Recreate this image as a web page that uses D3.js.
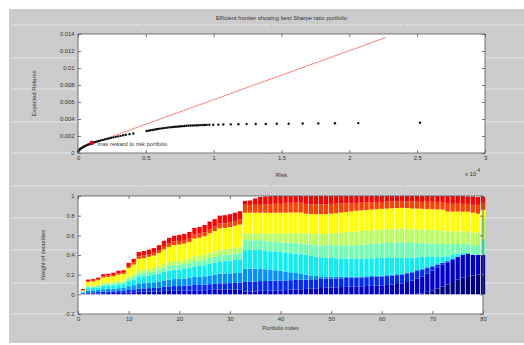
<!DOCTYPE html>
<html>
<head>
<meta charset="utf-8">
<script src="https://cdn.jsdelivr.net/npm/d3@7"></script>
<style>
  body { margin: 0; background: #fff; }
  svg text { font-family: "Liberation Sans", Arial, Helvetica, sans-serif; font-size: 5.8px; fill: #333; }
  #fig { opacity: 0.999; }
</style>
</head>
<body>
<svg id="fig" width="524" height="345"></svg>
<script>
// ---- data ----

// efficient frontier, risk in units of 1e-4
var frontierRisk = [
  .002, .006, .011, .017, .023, .030, .037, .045, .053, .062,
  .072, .082, .093, .104, .116, .128, .141, .154, .168, .182,
  .197, .212, .228, .244, .261, .278, .296, .314, .333, .352,
  .380, .408, .506, .520, .534, .548, .562, .576, .590, .604,
  .618, .632, .646, .660, .674, .688, .702, .716, .730, .744,
  .758, .772, .786, .800, .815, .830, .845, .860, .875, .890,
  .905, .920, .935, .949, .968, .997, 1.034, 1.071, 1.126, 1.182,
  1.243, 1.310, 1.384, 1.465, 1.553, 1.656, 1.771, 1.894, 2.066, 2.521
];
var frontierReturn = [
  .00016, .00028, .00038, .00047, .00055, .00062, .00069, .00076, .00083, .0009,
  .00097, .00103, .0011, .00116, .00123, .00129, .00135, .00141, .00148, .00154,
  .0016, .00166, .00172, .00178, .00184, .0019, .00196, .00202, .00208, .00214,
  .00222, .0023, .00259, .00263, .00267, .00271, .00275, .00279, .00283, .00287,
  .0029, .00293, .00296, .00299, .00302, .00304, .00306, .00308, .0031, .00312,
  .00314, .00316, .00318, .0032, .00322, .00323, .00324, .00325, .00326, .00327,
  .00328, .00329, .0033, .00331, .00332, .00333, .00334, .00335, .00337, .00338,
  .0034, .00341, .00342, .00344, .00345, .00347, .00348, .0035, .00352, .00356
];

// capital market line and best sharpe portfolio
var cmlRisk = [0, 2.27];
var cmlReturn = [0.0005, 0.0136];
var maxSharpeRisk = 0.1;
var maxSharpeReturn = 0.00118;

var riskTicks = [0, 0.5, 1, 1.5, 2, 2.5, 3];
var returnTicks = [0, 0.002, 0.004, 0.006, 0.008, 0.01, 0.012, 0.014];

// weights of the 10 securities for the 80 portfolios
var w1 = [
  0, 0, 0, 0, 0, 0, 0, 0, 0, 0,
  0, 0, 0, 0, 0, 0, 0, 0, 0, 0,
  0, 0, 0, 0, 0, 0, 0, 0, 0, 0,
  0, 0, 0, 0, 0, 0, 0, 0, 0, 0,
  0, 0, 0, 0, 0, 0, 0, 0, 0, 0,
  0, 0, 0, 0, 0, 0, 0, 0, 0, 0,
  0, 0, 0, 0, 0, 0, .005, .01, .025, .04,
  .06, .08, .10, .125, .15, .17, .185, .19, .20, .20
];
var w2 = [
  0, .009, .009, .010, .012, .013, .013, .014, .015, .019,
  .022, .026, .026, .027, .028, .030, .033, .035, .036, .036,
  .037, .038, .041, .041, .042, .044, .046, .048, .048, .049,
  .050, .051, .03, .03, .03, .035, .035, .038, .04, .04,
  .043, .046, .05, .052, .055, .058, .061, .064, .067, .07,
  .072, .074, .076, .078, .08, .082, .084, .086, .088, .09,
  .095, .10, .105, .11, .125, .14, .155, .17, .185, .20,
  .21, .22, .225, .23, .23, .23, .23, .21, .20, .20
];
var w3 = [
  .01, .012, .012, .014, .016, .017, .018, .019, .020, .026,
  .029, .034, .035, .036, .038, .040, .044, .046, .048, .048,
  .049, .051, .054, .055, .056, .059, .061, .064, .064, .065,
  .066, .068, .10, .10, .10, .10, .10, .10, .10, .10,
  .099, .098, .097, .096, .095, .094, .093, .092, .091, .09,
  .09, .09, .09, .09, .09, .09, .09, .09, .09, .09,
  .09, .09, .09, .09, .088, .083, .077, .07, .057, .045,
  .032, .02, .012, .006, .002, 0, 0, 0, 0, 0
];
var w4 = [
  .005, .018, .019, .020, .025, .025, .026, .029, .029, .038,
  .043, .052, .053, .055, .056, .060, .065, .069, .071, .073,
  .074, .076, .081, .082, .085, .089, .092, .096, .097, .098,
  .100, .101, .13, .13, .13, .125, .12, .11, .105, .10,
  .09, .08, .07, .06, .05, .04, .033, .027, .022, .02,
  .017, .015, .013, .011, .01, .01, .01, .01, .01, .01,
  .01, .01, .01, .01, .01, .01, .01, .01, .008, .006,
  .004, .002, 0, 0, 0, 0, 0, 0, 0, 0
];
var w5 = [
  .01, .024, .025, .027, .033, .034, .035, .038, .039, .051,
  .058, .069, .070, .073, .075, .080, .087, .092, .095, .097,
  .098, .102, .108, .110, .113, .118, .122, .128, .129, .130,
  .133, .135, .19, .19, .19, .19, .19, .19, .19, .19,
  .192, .195, .197, .2, .2, .198, .196, .194, .192, .19,
  .188, .186, .184, .182, .18, .18, .18, .18, .18, .18,
  .175, .17, .165, .16, .15, .14, .13, .12, .105, .09,
  .075, .06, .05, .04, .03, .02, .01, 0, 0, 0
];
var w6 = [
  .005, .012, .012, .014, .016, .017, .018, .019, .020, .026,
  .029, .034, .035, .036, .038, .040, .044, .046, .048, .048,
  .049, .051, .054, .055, .056, .059, .061, .064, .064, .065,
  .066, .068, .10, .10, .10, .10, .10, .10, .10, .10,
  .102, .104, .106, .108, .11, .114, .118, .122, .126, .13,
  .132, .134, .136, .138, .14, .142, .144, .146, .148, .15,
  .152, .155, .158, .16, .155, .15, .145, .14, .138, .135,
  .132, .13, .12, .11, .10, .09, .09, .10, .10, .16
];
var w7 = [
  0, .011, .011, .012, .014, .015, .015, .017, .017, .022,
  .025, .030, .031, .032, .033, .035, .038, .040, .042, .042,
  .043, .044, .047, .048, .049, .052, .054, .056, .056, .057,
  .058, .059, .07, .07, .07, .07, .075, .08, .085, .09,
  .094, .098, .102, .106, .11, .112, .114, .116, .118, .12,
  .124, .128, .132, .136, .14, .14, .14, .14, .14, .14,
  .14, .14, .14, .14, .14, .14, .14, .14, .14, .14,
  .14, .14, .13, .13, .13, .13, .13, .13, .13, .21
];
var w8 = [
  .01, .040, .042, .046, .055, .057, .059, .065, .066, .086,
  .097, .116, .119, .123, .127, .135, .147, .155, .161, .163,
  .166, .171, .182, .185, .190, .200, .207, .216, .217, .220,
  .224, .228, .21, .21, .21, .21, .21, .21, .21, .21,
  .21, .21, .21, .21, .20, .20, .20, .20, .20, .20,
  .202, .204, .206, .208, .21, .21, .21, .21, .21, .21,
  .21, .21, .21, .21, .21, .21, .21, .21, .21, .21,
  .21, .21, .205, .20, .20, .20, .195, .20, .19, .09
];
var w9 = [
  .005, .009, .009, .010, .012, .013, .013, .014, .015, .019,
  .022, .026, .026, .027, .028, .030, .033, .035, .036, .036,
  .037, .038, .041, .041, .042, .044, .046, .048, .048, .049,
  .050, .051, .08, .08, .08, .08, .085, .09, .09, .09,
  .10, .10, .10, .10, .10, .10, .10, .10, .10, .10,
  .096, .092, .088, .084, .08, .078, .076, .074, .072, .07,
  .07, .07, .07, .07, .07, .07, .07, .07, .075, .075,
  .075, .075, .08, .08, .08, .08, .08, .08, .09, .07
];
var w10 = [
  .01, .015, .016, .017, .022, .019, .023, .025, .024, .033,
  .035, .043, .045, .046, .047, .050, .054, .057, .058, .062,
  .062, .064, .067, .068, .072, .075, .076, .080, .082, .082,
  .083, .084, .04, .045, .065, .08, .08, .08, .08, .08,
  .07, .069, .068, .068, .08, .084, .085, .085, .084, .08,
  .079, .077, .075, .073, .07, .068, .066, .064, .062, .06,
  .058, .055, .052, .05, .052, .057, .058, .06, .057, .059,
  .062, .063, .078, .079, .078, .08, .075, .085, .08, .06
];
var securities = ["s1", "s2", "s3", "s4", "s5", "s6", "s7", "s8", "s9", "s10"];
var securityWeights = [w1, w2, w3, w4, w5, w6, w7, w8, w9, w10];
var securityColors = ["#000080", "#0000c8", "#0028ff", "#0090ff", "#10ecf0",
                      "#70ffb0", "#b8ff60", "#ffff00", "#ff4000", "#ff0000"];

var portfolioTicks = [0, 10, 20, 30, 40, 50, 60, 70, 80];
var weightTicks = [-0.2, 0, 0.2, 0.4, 0.6, 0.8, 1];

// ---- layout ----
var fig = {};
fig.svg = d3.select("#fig");
fig.bg = "#cbcbcb";
fig.fmt = function(d) { return String(+d.toFixed(4)); };

fig.top = { left: 78, right: 485, top: 34, bottom: 153 };
fig.bot = { left: 78, right: 483, top: 196, bottom: 314 };

// grey figure background with the faint lighter streaks
fig.svg.append("rect")
    .attr("x", 9).attr("y", 9)
    .attr("width", 515).attr("height", 334)
    .attr("fill", fig.bg);

var streakY = [25, 58, 89, 122, 153, 186, 218, 250, 283, 314];
var streakX = [[12, 141], [143, 270], [272, 403], [405, 524]];
streakY.forEach(function(y) {
  streakX.forEach(function(s) {
    fig.svg.append("line")
        .attr("x1", s[0]).attr("x2", s[1])
        .attr("y1", y).attr("y2", y)
        .attr("stroke", "#dcdcdc")
        .attr("stroke-width", 1.5);
  });
});

// white axes background
function drawFrame(box) {
  fig.svg.append("rect")
      .attr("x", box.left).attr("y", box.top)
      .attr("width", box.right - box.left)
      .attr("height", box.bottom - box.top)
      .attr("fill", "#fff");
}

// ticks on all four sides (pointing in), labels and the box
function drawAxes(box, x, y, xTicks, yTicks) {
  var g;
  g = fig.svg.append("g")
      .attr("transform", "translate(0," + box.bottom + ")")
      .call(d3.axisBottom(x).tickValues(xTicks).tickFormat(fig.fmt)
            .tickSizeInner(-3).tickSizeOuter(0).tickPadding(2.5));
  g.select(".domain").remove();
  g = fig.svg.append("g")
      .attr("transform", "translate(0," + box.top + ")")
      .call(d3.axisTop(x).tickValues(xTicks).tickFormat("")
            .tickSizeInner(-3).tickSizeOuter(0));
  g.select(".domain").remove();
  g = fig.svg.append("g")
      .attr("transform", "translate(" + box.left + ",0)")
      .call(d3.axisLeft(y).tickValues(yTicks).tickFormat(fig.fmt)
            .tickSizeInner(-3).tickSizeOuter(0).tickPadding(3.5));
  g.select(".domain").remove();
  g = fig.svg.append("g")
      .attr("transform", "translate(" + box.right + ",0)")
      .call(d3.axisRight(y).tickValues(yTicks).tickFormat("")
            .tickSizeInner(-3).tickSizeOuter(0));
  g.select(".domain").remove();

  fig.svg.selectAll(".tick line").attr("stroke", "#555").attr("stroke-width", 0.8);
  fig.svg.selectAll(".tick text").attr("font-size", null).attr("font-family", null);

  fig.svg.append("rect")
      .attr("x", box.left).attr("y", box.top)
      .attr("width", box.right - box.left)
      .attr("height", box.bottom - box.top)
      .attr("fill", "none")
      .attr("stroke", "#555")
      .attr("stroke-width", 0.8);
}

// ---- top: efficient frontier ----
var top = {};
top.x = d3.scaleLinear().domain([0, 3]).range([fig.top.left, fig.top.right]);
top.y = d3.scaleLinear().domain([0, 0.014]).range([fig.top.bottom, fig.top.top]);

drawFrame(fig.top);

fig.svg.append("line")
    .attr("x1", top.x(cmlRisk[0])).attr("y1", top.y(cmlReturn[0]))
    .attr("x2", top.x(cmlRisk[1])).attr("y2", top.y(cmlReturn[1]))
    .attr("stroke", "#ff8080")
    .attr("stroke-width", 1);

fig.svg.append("g").selectAll("circle")
    .data(frontierRisk)
    .enter().append("circle")
    .attr("cx", function(d) { return top.x(d); })
    .attr("cy", function(d, i) { return top.y(frontierReturn[i]); })
    .attr("r", 1.2)
    .attr("fill", "#111");

fig.svg.append("circle")
    .attr("cx", top.x(maxSharpeRisk))
    .attr("cy", top.y(maxSharpeReturn))
    .attr("r", 2.2)
    .attr("fill", "#e00000");

fig.svg.append("text")
    .attr("x", top.x(maxSharpeRisk) + 6)
    .attr("y", top.y(maxSharpeReturn) + 3)
    .text("max reward to risk portfolio");

drawAxes(fig.top, top.x, top.y, riskTicks, returnTicks);

fig.svg.append("text")
    .attr("x", (fig.top.left + fig.top.right) / 2)
    .attr("y", 19.5)
    .attr("text-anchor", "middle")
    .text("Efficient frontier showing best Sharpe ratio portfolio");

fig.svg.append("text")
    .attr("x", (fig.top.left + fig.top.right) / 2)
    .attr("y", 177)
    .attr("text-anchor", "middle")
    .text("Risk");

var expo = fig.svg.append("text").attr("x", 465).attr("y", 176);
expo.append("tspan").text("x 10");
expo.append("tspan").attr("dy", -4.5).attr("font-size", "4.5px").text("-4");

fig.svg.append("text")
    .attr("transform", "translate(36," + (fig.top.top + fig.top.bottom) / 2 + ") rotate(-90)")
    .attr("text-anchor", "middle")
    .text("Expected Returns");

// ---- bottom: stacked weights ----
var bot = {};
bot.x = d3.scaleLinear().domain([0, 80]).range([fig.bot.left, fig.bot.right]);
bot.y = d3.scaleLinear().domain([-0.2, 1]).range([fig.bot.bottom, fig.bot.top]);
bot.color = d3.scaleOrdinal().domain(securities).range(securityColors);

bot.rows = frontierRisk.map(function(r, i) {
  var row = { idx: i + 1 };
  securities.forEach(function(s, k) { row[s] = securityWeights[k][i]; });
  return row;
});
bot.stack = d3.stack().keys(securities)(bot.rows);

drawFrame(fig.bot);

var barW = bot.x(0.85) - bot.x(0);
fig.svg.append("g").selectAll("g")
    .data(bot.stack)
    .enter().append("g")
    .attr("fill", function(d) { return bot.color(d.key); })
    .selectAll("rect")
    .data(function(d) { return d; })
    .enter().append("rect")
    .attr("x", function(d) { return bot.x(d.data.idx) - barW / 2; })
    .attr("width", barW)
    .attr("y", function(d) { return bot.y(d[1]); })
    .attr("height", function(d) { return Math.max(0, bot.y(d[0]) - bot.y(d[1])); });

drawAxes(fig.bot, bot.x, bot.y, portfolioTicks, weightTicks);

fig.svg.append("text")
    .attr("x", (fig.bot.left + fig.bot.right) / 2)
    .attr("y", 329.5)
    .attr("text-anchor", "middle")
    .text("Portfolio index");

fig.svg.append("text")
    .attr("transform", "translate(45," + (fig.bot.top + fig.bot.bottom) / 2 + ") rotate(-90)")
    .attr("text-anchor", "middle")
    .text("Weight of securities");
</script>
</body>
</html>
